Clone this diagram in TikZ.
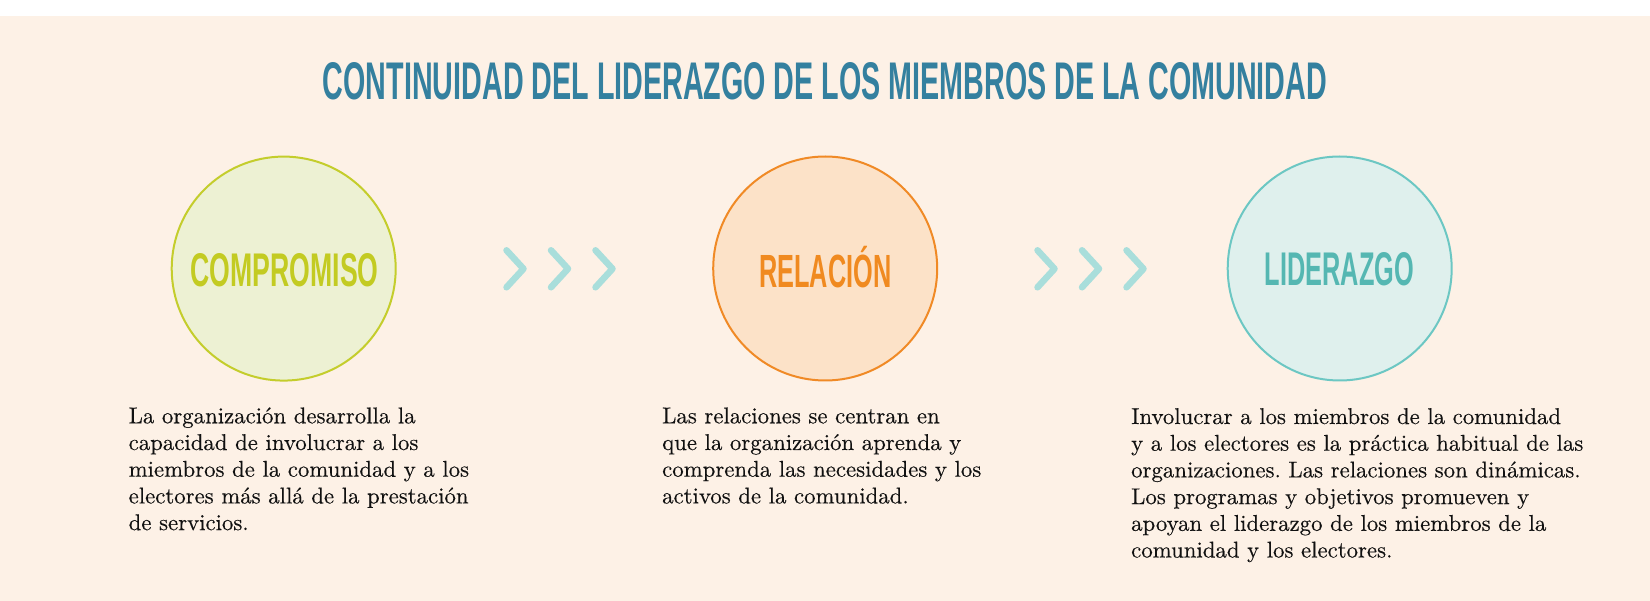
\documentclass[tikz,border=0pt]{standalone}
\usepackage{fontspec}
\usepackage{graphicx}
\newfontfamily\headfont{Liberation Sans}
\newfontfamily\bodyfont{lmroman10-regular}[Extension=.otf,FakeBold=0.3]
\definecolor{bgc}{HTML}{FDF1E6}
\definecolor{titlec}{HTML}{34809F}
\definecolor{gstroke}{HTML}{C4CD2C}
\definecolor{gfill}{HTML}{EDF1D3}
\definecolor{gtext}{HTML}{C3CB22}
\definecolor{ostroke}{HTML}{F08A26}
\definecolor{ofill}{HTML}{FCE2C8}
\definecolor{otext}{HTML}{F08A20}
\definecolor{tstroke}{HTML}{6CC7C3}
\definecolor{tfill}{HTML}{DFF0ED}
\definecolor{ttext}{HTML}{55B7B2}
\definecolor{chevc}{HTML}{A9DEDB}
\definecolor{bodyc}{HTML}{111111}
\newcommand{\capfit}[3]{\resizebox{#1}{#2}{\headfont\bfseries\vphantom{O}\smash{#3}}}
\frenchspacing
\begin{document}
\begin{tikzpicture}[x=1pt,y=-1pt,
  circ/.style={circle,inner sep=0pt,minimum size=224pt,line width=2pt},
  lbl/.style={inner sep=0pt,anchor=center},
  chev/.style={draw=chevc,line width=6.5pt,line cap=round,line join=round},
  body/.style={inner sep=0pt,anchor=base west,text=bodyc,font=\bodyfont\fontsize{22.8}{26.7}\selectfont}]
\fill[white] (0,0) rectangle (1650,601);
\fill[bgc] (0,16) rectangle (1650,601);
\useasboundingbox (0,0) rectangle (1650,601);

\node[lbl,text=titlec] (title) at (825,81.5)
  {\capfit{1004pt}{37pt}{CONTINUIDAD DEL LIDERAZGO DE LOS MIEMBROS DE LA COMUNIDAD}};

\node[circ,draw=gstroke,fill=gfill] (c1) at (283.7,268.6) {};
\node[circ,draw=ostroke,fill=ofill] (c2) at (825.2,268.5) {};
\node[circ,draw=tstroke,fill=tfill] (c3) at (1339.7,268.5) {};

\node[lbl,text=gtext] (l1) at (284.7,270.5) {\capfit{188pt}{33pt}{COMPROMISO}};
\node[lbl,text=otext] (l2) at (825.3,271.1) {\capfit{132pt}{32.5pt}{RELACIÓN}};
\node[lbl,text=ttext] (l3) at (1339.5,269.2) {\capfit{149pt}{33pt}{LIDERAZGO}};

\foreach \x in {506.5,551,595.5,1037.5,1082,1126.5}{
  \draw[chev] (\x,250.3) -- (\x+17,268.8) -- (\x,287.3);
}

\node[body] (t1) at (128.5,423.3) {\parbox[t]{520pt}{\raggedright
La organización desarrolla la\\
capacidad de involucrar a los\\
miembros de la comunidad y a los\\
electores más allá de la prestación\\
de servicios.}};

\node[body] (t2) at (662,423.3) {\parbox[t]{520pt}{\raggedright
Las relaciones se centran en\\
que la organización aprenda y\\
comprenda las necesidades y los\\
activos de la comunidad.}};

\node[body] (t3) at (1131,424) {\parbox[t]{520pt}{\raggedright
Involucrar a los miembros de la comunidad\\
y a los electores es la práctica habitual de las\\
organizaciones. Las relaciones son dinámicas.\\
Los programas y objetivos promueven y\\
apoyan el liderazgo de los miembros de la\\
comunidad y los electores.}};
\end{tikzpicture}
\end{document}
